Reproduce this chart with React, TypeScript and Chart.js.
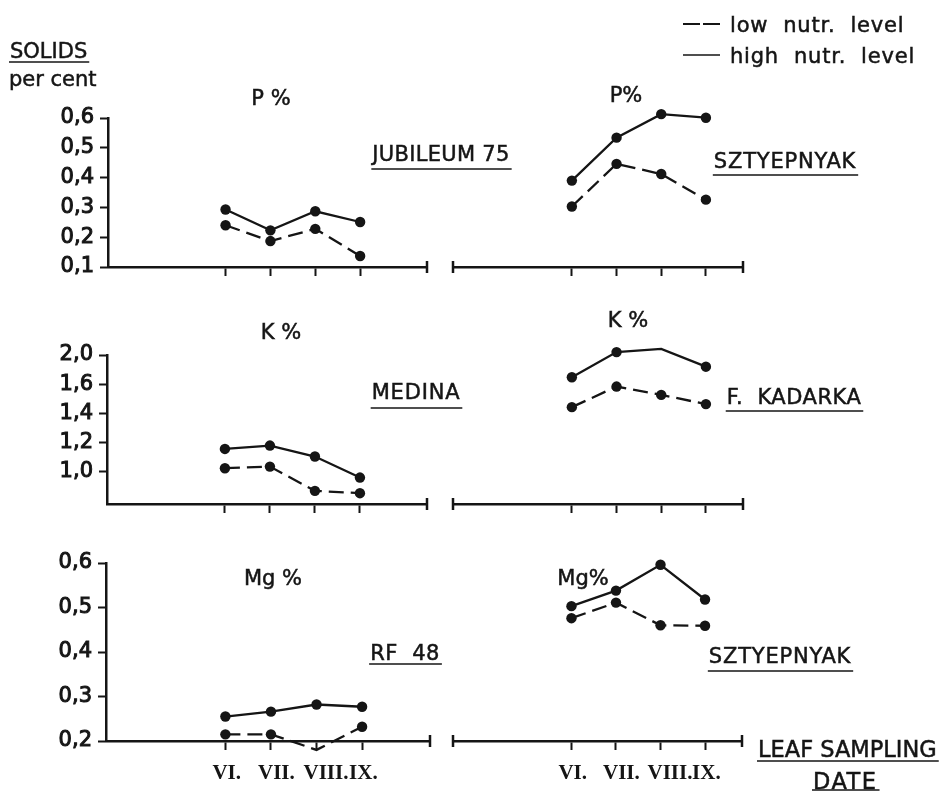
import React, { useEffect, useRef } from "react";
import { Chart, registerables } from "chart.js";

Chart.register(...registerables);

// ---------- data ----------
const months = ["VI.", "VII.", "VIII.", "IX."];

// P % (row 1)
const pJubileumLow = [0.24, 0.187, 0.228, 0.137];
const pJubileumHigh = [0.293, 0.223, 0.287, 0.251];
const pSztyepnyakLow = [0.303, 0.446, 0.412, 0.326];
const pSztyepnyakHigh = [0.39, 0.534, 0.613, 0.601];
const pTickValues = [0.1, 0.2, 0.3, 0.4, 0.5, 0.6];
const pTickLabels = ["0,1", "0,2", "0,3", "0,4", "0,5", "0,6"];

// K % (row 2)
const kMedinaLow = [1.025, 1.036, 0.87, 0.854];
const kMedinaHigh = [1.157, 1.18, 1.105, 0.961];
const kKadarkaLow = [1.443, 1.584, 1.527, 1.464];
const kKadarkaHigh = [1.648, 1.82, 1.842, 1.72];
const kTickValues = [1.0, 1.2, 1.4, 1.6, 1.8];
const kTickLabels = ["1,0", "1,2", "1,4", "1,6", "2,0"];

// Mg % (row 3)
const mgRf48Low = [0.215, 0.215, 0.18, 0.232];
const mgRf48High = [0.255, 0.266, 0.282, 0.277];
const mgSztyepnyakLow = [0.476, 0.511, 0.46, 0.459];
const mgSztyepnyakHigh = [0.503, 0.538, 0.596, 0.518];
const mgTickValues = [0.2, 0.3, 0.4, 0.5, 0.6];
const mgTickLabels = ["0,2", "0,3", "0,4", "0,5", "0,6"];

const seriesNames = ["low nutr. level", "high nutr. level"];

// ---------- layout ----------
const W = 946;
const H = 791;
const INK = "#151515";
const SANS = "'DejaVu Sans', sans-serif";
const SERIF = "'Liberation Serif', 'DejaVu Serif', serif";

type TextItem = {
  t: string;
  x: number;
  y: number;
  size: number;
  align?: CanvasTextAlign;
  baseline?: CanvasTextBaseline;
  underline?: number;
  spacing?: number;
};

type Panel = {
  low: number[];
  high: number[];
  area: { left: number; top: number; right: number; bottom: number };
  xMin: number;
  xMax: number;
  yMin: number;
  yMax: number;
  yTicks: number[];
  yLabels: string[];
  showY: boolean;
  showMonths: boolean;
  capLeft: boolean;
  texts: TextItem[];
};

const LEFT_X = { xMin: -2.62, xMax: 4.49 };
const RIGHT_X = { xMin: -2.66, xMax: 3.83 };

const panels: Panel[] = [
  {
    low: pJubileumLow, high: pJubileumHigh,
    area: { left: 108, top: 118, right: 427, bottom: 267 }, ...LEFT_X,
    yMin: 0.1, yMax: 0.6, yTicks: pTickValues, yLabels: pTickLabels,
    showY: true, showMonths: false, capLeft: false,
    texts: [
      { t: "SOLIDS", x: 10, y: 58, size: 21, align: "left", baseline: "alphabetic", underline: 62 },
      { t: "per cent", x: 9, y: 86, size: 21, align: "left", baseline: "alphabetic" },
      { t: "P %", x: 271, y: 100, size: 21 },
      { t: "JUBILEUM 75", x: 441, y: 156, size: 21, underline: 169, spacing: 0.3 },
      { t: "low  nutr.  level", x: 730, y: 32, size: 21, align: "left", baseline: "alphabetic", spacing: 0.8 },
      { t: "high  nutr.  level", x: 730, y: 63, size: 21, align: "left", baseline: "alphabetic", spacing: 0.8 },
      { t: "LEAF SAMPLING", x: 758, y: 757, size: 22.5, align: "left", baseline: "alphabetic", underline: 761 },
      { t: "DATE", x: 813, y: 789, size: 22.5, align: "left", baseline: "alphabetic", underline: 790, spacing: 1.5 },
    ],
  },
  {
    low: pSztyepnyakLow, high: pSztyepnyakHigh,
    area: { left: 453, top: 118, right: 743, bottom: 267 }, ...RIGHT_X,
    yMin: 0.1, yMax: 0.6, yTicks: pTickValues, yLabels: pTickLabels,
    showY: false, showMonths: false, capLeft: true,
    texts: [
      { t: "P%", x: 626, y: 97, size: 21 },
      { t: "SZTYEPNYAK", x: 785, y: 163, size: 21, underline: 175, spacing: 0.8 },
    ],
  },
  {
    low: kMedinaLow, high: kMedinaHigh,
    area: { left: 107, top: 355, right: 427, bottom: 504 }, ...LEFT_X,
    yMin: 0.78, yMax: 1.8, yTicks: kTickValues, yLabels: kTickLabels,
    showY: true, showMonths: false, capLeft: false,
    texts: [
      { t: "K %", x: 281, y: 334, size: 21 },
      { t: "MEDINA", x: 416, y: 394, size: 21, underline: 408, spacing: 0.8 },
    ],
  },
  {
    low: kKadarkaLow, high: kKadarkaHigh,
    area: { left: 453, top: 355, right: 743, bottom: 504 }, ...RIGHT_X,
    yMin: 0.78, yMax: 1.8, yTicks: kTickValues, yLabels: kTickLabels,
    showY: false, showMonths: false, capLeft: true,
    texts: [
      { t: "K %", x: 628, y: 322, size: 21 },
      { t: "F.  KADARKA", x: 794, y: 399, size: 21, underline: 411, spacing: 0.5 },
    ],
  },
  {
    low: mgRf48Low, high: mgRf48High,
    area: { left: 106, top: 563, right: 430, bottom: 741 }, ...LEFT_X,
    yMin: 0.2, yMax: 0.6, yTicks: mgTickValues, yLabels: mgTickLabels,
    showY: true, showMonths: true, capLeft: false,
    texts: [
      { t: "Mg %", x: 273, y: 580, size: 21 },
      { t: "RF  48", x: 405, y: 655, size: 21, underline: 664, spacing: 0.5 },
    ],
  },
  {
    low: mgSztyepnyakLow, high: mgSztyepnyakHigh,
    area: { left: 453, top: 563, right: 742, bottom: 741 }, ...RIGHT_X,
    yMin: 0.2, yMax: 0.6, yTicks: mgTickValues, yLabels: mgTickLabels,
    showY: false, showMonths: true, capLeft: true,
    texts: [
      { t: "Mg%", x: 583, y: 580, size: 21 },
      { t: "SZTYEPNYAK", x: 780, y: 658, size: 21, underline: 671, spacing: 0.8 },
    ],
  },
];

const X_HEIGHT = 44;

function makePlugin(panel: Panel, withLegend: boolean) {
  return {
    id: "annot",
    afterDraw(chart: any) {
      const ctx: CanvasRenderingContext2D = chart.ctx;
      const a = chart.chartArea;
      ctx.save();
      ctx.strokeStyle = INK;
      ctx.fillStyle = INK;
      // axis end caps
      ctx.lineWidth = 2.5;
      ctx.beginPath();
      ctx.moveTo(a.right, a.bottom - 6);
      ctx.lineTo(a.right, a.bottom + 6);
      if (panel.capLeft) {
        ctx.moveTo(a.left, a.bottom - 6);
        ctx.lineTo(a.left, a.bottom + 6);
      }
      ctx.stroke();

      // legend samples
      if (withLegend) {
        ctx.lineWidth = 2.2;
        ctx.setLineDash([17, 3]);
        ctx.beginPath();
        ctx.moveTo(683, 24);
        ctx.lineTo(720, 24);
        ctx.stroke();
        ctx.setLineDash([]);
        ctx.lineWidth = 1.6;
        ctx.beginPath();
        ctx.moveTo(683, 55);
        ctx.lineTo(720, 55);
        ctx.stroke();
      }

      // texts
      for (const it of panel.texts) {
        ctx.font = `${it.size}px ${SANS}`;
        (ctx as any).letterSpacing = `${it.spacing ?? 0}px`;
        ctx.textAlign = it.align ?? "center";
        ctx.textBaseline = it.baseline ?? "middle";
        ctx.fillText(it.t, it.x, it.y);
        ctx.lineWidth = 0.5;
        ctx.strokeText(it.t, it.x, it.y);
        if (it.underline !== undefined) {
          const w = ctx.measureText(it.t).width;
          let x0 = it.x;
          if ((it.align ?? "center") === "center") x0 = it.x - w / 2;
          ctx.lineWidth = 1.6;
          ctx.beginPath();
          ctx.moveTo(x0 - 1, it.underline);
          ctx.lineTo(x0 + w + 2, it.underline);
          ctx.stroke();
        }
      }
      (ctx as any).letterSpacing = "0px";
      ctx.restore();
    },
  };
}

function buildConfig(panel: Panel, idx: number): any {
  const common = {
    borderColor: INK,
    backgroundColor: INK,
    borderWidth: 2.3,
    pointRadius: 5.2,
    pointBackgroundColor: INK,
    pointBorderColor: INK,
    pointBorderWidth: 0,
    tension: 0,
    clip: false as any,
    fill: false,
  };
  const a = panel.area;
  return {
    type: "line",
    data: {
      datasets: [
        {
          ...common,
          label: seriesNames[0],
          data: panel.low.map((v, i) => ({ x: i, y: v })),
          borderDash: [15, 7],
        },
        {
          ...common,
          label: seriesNames[1],
          data: panel.high.map((v, i) => ({ x: i, y: v })),
        },
      ],
    },
    options: {
      responsive: false,
      maintainAspectRatio: false,
      animation: false,
      devicePixelRatio: 1,
      events: [],
      layout: {
        padding: {
          left: panel.showY ? 0 : a.left,
          top: a.top,
          right: W - a.right,
          bottom: H - a.bottom - X_HEIGHT,
        },
      },
      plugins: {
        legend: { display: false },
        tooltip: { enabled: false },
        title: { display: false },
      },
      scales: {
        x: {
          type: "linear",
          min: panel.xMin,
          max: panel.xMax,
          afterBuildTicks: (s: any) => {
            s.ticks = months.map((_, i) => ({ value: i }));
          },
          afterFit: (s: any) => {
            s.height = X_HEIGHT;
            s.paddingLeft = 0;
            s.paddingRight = 0;
          },
          ticks: {
            display: panel.showMonths,
            autoSkip: false,
            maxRotation: 0,
            padding: 11,
            align: "start",
            labelOffset: -13,
            color: INK,
            font: { family: SERIF, size: 21, weight: "bold" },
            callback: (v: any) => months[Math.round(Number(v))] ?? "",
          },
          grid: {
            drawOnChartArea: false,
            drawTicks: true,
            tickLength: 9,
            tickColor: INK,
            tickWidth: 2,
          },
          border: { display: true, color: INK, width: 2.5 },
        },
        y: {
          type: "linear",
          display: panel.showY,
          min: panel.yMin,
          max: panel.yMax,
          afterBuildTicks: (s: any) => {
            s.ticks = panel.yTicks.map((v) => ({ value: v }));
          },
          afterFit: panel.showY
            ? (s: any) => {
                s.width = a.left;
                s.paddingTop = 0;
                s.paddingBottom = 0;
              }
            : undefined,
          ticks: {
            padding: 6,
            color: INK,
            textStrokeColor: INK,
            textStrokeWidth: 1,
            font: { family: SANS, size: 21 },
            callback: (v: any, i: number) => panel.yLabels[i] ?? "",
          },
          grid: {
            drawOnChartArea: false,
            drawTicks: true,
            tickLength: 8,
            tickColor: INK,
            tickWidth: 2,
          },
          border: { display: true, color: INK, width: 2.5 },
        },
      },
    },
    plugins: [makePlugin(panel, idx === 0)],
  };
}

function PanelCanvas({ panel, idx }: { panel: Panel; idx: number }) {
  const ref = useRef<HTMLCanvasElement | null>(null);
  useEffect(() => {
    if (!ref.current) return;
    const chart = new Chart(ref.current, buildConfig(panel, idx));
    return () => chart.destroy();
  }, [panel, idx]);
  return (
    <canvas
      ref={ref}
      width={W}
      height={H}
      style={{ position: "absolute", left: 0, top: 0, width: W, height: H }}
    />
  );
}

export default function App() {
  return (
    <div
      style={{
        position: "absolute",
        left: 0,
        top: 0,
        width: W,
        height: H,
        background: "#ffffff",
        overflow: "hidden",
      }}
    >
      {panels.map((p, i) => (
        <PanelCanvas key={i} panel={p} idx={i} />
      ))}
    </div>
  );
}
